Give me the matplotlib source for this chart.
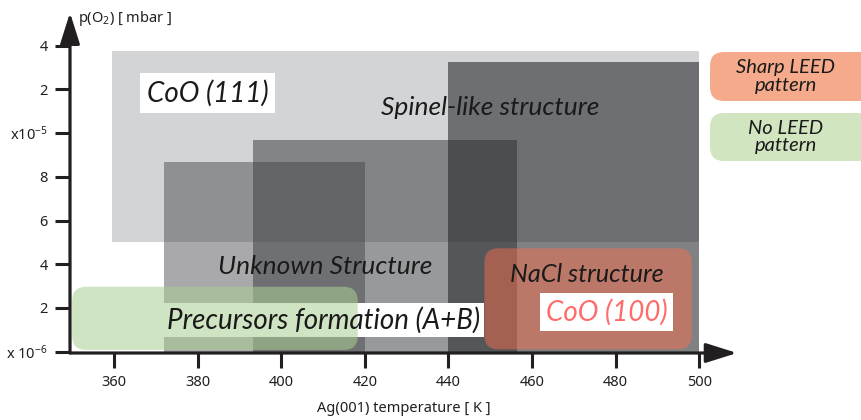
import numpy as np
import matplotlib
matplotlib.use("Agg")
import matplotlib.pyplot as plt
from matplotlib.patches import Rectangle, FancyBboxPatch

plt.rcParams["font.family"] = ["Noto Sans", "DejaVu Sans"]
plt.rcParams["mathtext.fontset"] = "custom"
plt.rcParams["mathtext.rm"] = "Noto Sans"
plt.rcParams["mathtext.it"] = "Noto Sans:italic"

# pressure in units of 1e-6 mbar, temperature in K
# structure regions: (T_min, T_max, p_min, p_max)
spinel_region = (359.5, 500, 5.0, 36.5)
unknown_regions = [
    (372, 420, 0, 8.7),
    (393.3, 456.5, 0, 9.7),
    (440, 500, 0, 30.7),
]
unknown_colors = ["#323438", "#3a3c40", "#24262a"]
unknown_alphas = [0.42, 0.52, 0.58]

# LEED regions drawn as rounded boxes
no_leed_region = (350, 418.3, 0.08, 2.97)
sharp_leed_region = (448.6, 498.2, 0.11, 4.73)

x_ticks = [360, 380, 400, 420, 440, 460, 480, 500]
y_ticks = [0, 2, 4, 6, 8, 10, 20, 40]
y_tick_labels = ["x 10$^{-6}$", "2", "4", "6", "8", "x10$^{-5}$", "2", "4"]


def p_forward(p):
    p = np.asarray(p, dtype=float)
    return np.where(p <= 10, p / 2, 5 + np.log2(np.maximum(p, 10) / 10))


def p_inverse(y):
    y = np.asarray(y, dtype=float)
    return np.where(y <= 5, 2 * y, 10 * 2 ** (np.clip(y, 5, 50) - 5))


W, H = 862, 420
fig = plt.figure(figsize=(W / 100, H / 100), dpi=100)
ax = fig.add_axes([70 / W, (H - 353) / H, 667 / W, 340.3 / H])
ax.set_yscale("function", functions=(p_forward, p_inverse))
ax.set_xlim(349.5, 509.0)
ax.set_ylim(-0.06, 67.5)

axis_color = "#231f20"
for s in ax.spines.values():
    s.set_visible(False)

# axes with arrow heads
arrow = dict(arrowstyle="-|>,head_length=0.95,head_width=0.3", lw=2.3,
             color=axis_color, shrinkA=0, shrinkB=0, mutation_scale=20)
ax.annotate("", xy=(1, 0), xytext=(0, 0), xycoords="axes fraction",
            arrowprops=arrow, annotation_clip=False, zorder=20)
ax.annotate("", xy=(0, 1), xytext=(0, 0), xycoords="axes fraction",
            arrowprops=arrow, annotation_clip=False, zorder=20)

ax.set_xticks(x_ticks)
ax.set_yticks(y_ticks)
ax.set_yticklabels(y_tick_labels)
ax.minorticks_off()
ax.tick_params(length=11, width=2.2, color=axis_color, labelsize=10.5,
               labelcolor=axis_color, pad=5)

# structure regions
x0, x1, y0, y1 = spinel_region
ax.add_patch(Rectangle((x0, y0), x1 - x0, y1 - y0, facecolor="#d3d4d6",
                       edgecolor="none", zorder=1))
for (x0, x1, y0, y1), c, a in zip(unknown_regions, unknown_colors, unknown_alphas):
    ax.add_patch(Rectangle((x0, y0), x1 - x0, y1 - y0, facecolor=c, alpha=a,
                           edgecolor="none", zorder=2))

# rounded corners: radius given in K, aspect converts to pressure units
px_per_K = 667 / (509.0 - 349.5)
px_per_p = 43.71 / 2
r_K = 14 / px_per_K
aspect = px_per_K / px_per_p

lab = dict(family="Lato", style="italic", color="#1a1a1a")

# precursor label: white box under the green region, text above it
ax.text(410.2, 1.45, "Precursors formation (A+B)", fontsize=20, ha="center",
        va="center", color="none", family="Lato", style="italic",
        bbox=dict(boxstyle="square,pad=0.12", fc="white", ec="none"), zorder=5)
x0, x1, y0, y1 = no_leed_region
ax.add_patch(FancyBboxPatch((x0, y0), x1 - x0, y1 - y0,
                            boxstyle=f"round,pad=0,rounding_size={r_K}",
                            mutation_aspect=aspect, facecolor="#a9cf91",
                            alpha=0.55, edgecolor="none", zorder=6))
ax.text(410.2, 1.45, "Precursors formation (A+B)", fontsize=20, ha="center",
        va="center", zorder=7, **lab)

x0, x1, y0, y1 = sharp_leed_region
ax.add_patch(FancyBboxPatch((x0, y0), x1 - x0, y1 - y0,
                            boxstyle=f"round,pad=0,rounding_size={r_K}",
                            mutation_aspect=aspect, facecolor="#ff6f4b",
                            alpha=0.47, edgecolor="none", zorder=6))

ax.text(382.4, 18.9, "CoO (111)", fontsize=20, ha="center", va="center",
        bbox=dict(boxstyle="square,pad=0.25", fc="white", ec="none"),
        zorder=8, **lab)
ax.text(449.9, 14.9, "Spinel-like structure", fontsize=19, ha="center",
        va="center", zorder=8, **lab)
ax.text(410.5, 3.92, "Unknown Structure", fontsize=19, ha="center",
        va="center", zorder=8, **lab)
ax.text(473.1, 3.51, "NaCl structure", fontsize=18.2, ha="center",
        va="center", zorder=8, **lab)
ax.text(477.8, 1.82, "CoO (100)", fontsize=20, ha="center", va="center",
        family="Lato", style="italic", color="#ff6b6b",
        bbox=dict(boxstyle="square,pad=0.2", fc="white", ec="none"), zorder=8)

# axis titles
fig.text(78 / W, 1 - 18 / H, "p(O$_2$) [ mbar ]", fontsize=10.5,
         color=axis_color, ha="left", va="center")
fig.text(404 / W, 1 - 408 / H, "Ag(001) temperature [ K ]", fontsize=10.5,
         color=axis_color, ha="center", va="center")

# legend boxes on the right
r_f = 14 / W
for (top, bottom), fc, txt in [((52, 101), "#f5aa8b", "Sharp LEED\npattern"),
                              ((113, 161), "#d0e5c0", "No LEED\npattern")]:
    fig.patches.append(FancyBboxPatch(
        (710 / W, 1 - bottom / H), 200 / W, (bottom - top) / H,
        boxstyle=f"round,pad=0,rounding_size={r_f}", mutation_aspect=W / H,
        facecolor=fc, edgecolor="none", transform=fig.transFigure))
    fig.text(786 / W, 1 - (top + bottom) / 2 / H, txt, fontsize=14.5,
             ha="center", va="center", linespacing=1.05, **lab)

fig.savefig("out.png", dpi=100)
